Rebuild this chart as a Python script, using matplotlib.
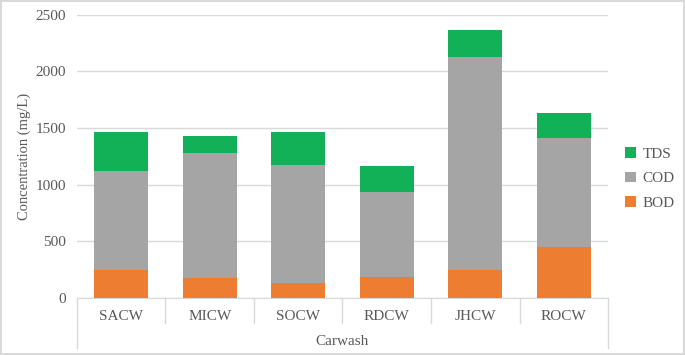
import matplotlib.pyplot as plt
import numpy as np

# values (mg/L)
carwash = ["SACW", "MICW", "SOCW", "RDCW", "JHCW", "ROCW"]
bod = [250, 179, 132, 188, 247, 453]
cod = [871, 1100, 1042, 747, 1882, 962]
tds = [344, 150, 291, 233, 236, 220]

plt.rcParams['font.family'] = ['Liberation Serif', 'DejaVu Serif']
txt = '#595959'
line = '#d9d9d9'

fig = plt.figure(figsize=(6.85, 3.55), dpi=100)
fig.patch.set_edgecolor(line)
fig.patch.set_linewidth(1.5)
ax = fig.add_axes([0.1124, 0.1606, 0.7752, 0.798])

x = np.arange(len(carwash))
w = 0.61
b1 = ax.bar(x, bod, w, color='#ED7D31', zorder=3)
b2 = ax.bar(x, cod, w, bottom=bod, color='#A5A5A5', zorder=3)
base = np.array(bod) + np.array(cod)
b3 = ax.bar(x, tds, w, bottom=base, color='#13B157', zorder=3)

ax.set_xlim(-0.5, len(carwash) - 0.5)
ax.set_ylim(0, 2500)
ax.set_yticks(np.arange(0, 2501, 500))
ax.yaxis.grid(True, color=line, linewidth=1)
ax.set_axisbelow(True)
for s in ['top', 'right', 'left']:
    ax.spines[s].set_visible(False)
ax.spines['bottom'].set_color(line)
ax.tick_params(axis='y', length=0, pad=8, labelsize=11, labelcolor=txt)
ax.tick_params(axis='x', length=0, pad=9, labelsize=11, labelcolor=txt)
ax.set_xticks(x)
ax.set_xticklabels(carwash)
ax.set_ylabel("Concentration (mg/L)", fontsize=10.5, color=txt, labelpad=3)

# multi-level category box below the axis
tr = ax.get_xaxis_transform()
for k in range(1, len(carwash)):
    ax.plot([k - 0.5, k - 0.5], [0, -0.088], transform=tr, color=line, lw=1, clip_on=False)
for edge in [-0.5, len(carwash) - 0.5]:
    ax.plot([edge, edge], [0, -0.176], transform=tr, color=line, lw=1, clip_on=False)
ax.text(np.mean(x), -0.152, "Carwash", transform=tr, ha='center', va='center',
        fontsize=11, color=txt)

leg = fig.legend([b3, b2, b1], ["TDS", "COD", "BOD"], loc='center left',
                 bbox_to_anchor=(0.893, 0.497), frameon=False, fontsize=11,
                 handlelength=0.7, handleheight=0.7, handletextpad=0.4, labelspacing=0.7)
for t in leg.get_texts():
    t.set_color(txt)

fig.savefig("out.png", dpi=100)
